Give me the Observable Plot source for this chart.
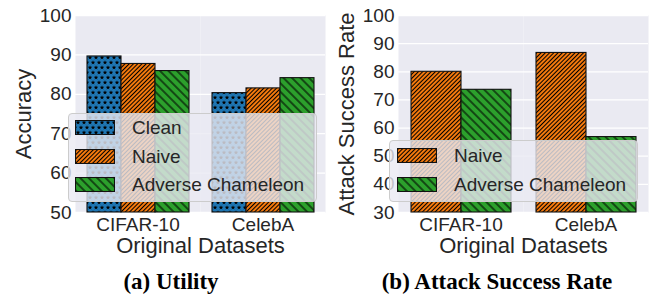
<!DOCTYPE html>
<html><head><meta charset="utf-8">
<script src="https://cdn.jsdelivr.net/npm/d3@7"></script>
<script src="https://cdn.jsdelivr.net/npm/@observablehq/plot@0.6"></script>
<style>
html,body{margin:0;padding:0;background:#fff;}
#wrap{position:relative;width:660px;height:301px;overflow:hidden;font-family:"Liberation Sans",Arial,sans-serif;}
.panel{position:absolute;top:0;width:330px;height:260px;}
.panel svg text{font-family:"Liberation Sans",Arial,sans-serif;}
g[aria-label="y-axis label"], g[aria-label="fx-axis label"]{font-size:22px;}
g[aria-label="y-axis label"] text, g[aria-label="fx-axis label"] text{font-size:22px;}
.legend{position:absolute;background:rgba(234,234,242,0.8);border:1px solid #cccccc;border-radius:4px;box-sizing:border-box;width:249px;}
.row{position:absolute;display:flex;align-items:center;height:15px;}
.row svg{display:block;flex:none}
.row span{font-size:19px;color:#262626;margin-left:17px;white-space:nowrap;line-height:15px}
.caption{position:absolute;top:269px;font-family:"Liberation Serif","Times New Roman",serif;font-weight:bold;font-size:23px;color:#000;white-space:nowrap;transform:translateX(-50%);}
</style></head>
<body>
<svg width="0" height="0" style="position:absolute">
  <defs>
    <pattern id="hStar" patternUnits="userSpaceOnUse" width="6" height="10">
      <path id="starA" fill="black" d=""/>
      <path id="starB" fill="black" d=""/>
      <path id="starC" fill="black" d=""/>
    </pattern>
    <pattern id="hFwd" patternUnits="userSpaceOnUse" width="3" height="3" patternTransform="rotate(45)">
      <line x1="1.5" y1="-1" x2="1.5" y2="4" stroke="black" stroke-width="1.1"/>
    </pattern>
    <pattern id="hBack" patternUnits="userSpaceOnUse" width="6" height="6" patternTransform="rotate(-45)">
      <line x1="3" y1="-1" x2="3" y2="7" stroke="black" stroke-width="1.1"/>
    </pattern>
  </defs>
</svg>
<div id="wrap"></div>
<script>
// ---- data ----
const datasets = ["CIFAR-10", "CelebA"];
const utilityMethods = ["Clean", "Naive", "Adverse Chameleon"];
const utilityClean = [89.6, 80.3];
const utilityNaive = [87.7, 81.5];
const utilityAdverse = [85.9, 84.1];
const utilityTicks = [50, 60, 70, 80, 90, 100];

const asrMethods = ["Naive", "Adverse Chameleon"];
const asrNaive = [80.0, 86.7];
const asrAdverse = [73.6, 56.8];
const asrTicks = [30, 40, 50, 60, 70, 80, 90, 100];

const methodColors = {"Clean": "#1f77b4", "Naive": "#ff7f0e", "Adverse Chameleon": "#2ca02c"};
const methodHatch = {"Clean": "url(#hStar)", "Naive": "url(#hFwd)", "Adverse Chameleon": "url(#hBack)"};

// star glyphs for the hatch pattern
function starPath(cx, cy, R, r) {
  let p = "";
  for (let i = 0; i < 10; i++) {
    const a = -Math.PI / 2 + i * Math.PI / 5;
    const rad = i % 2 ? r : R;
    p += (i ? "L" : "M") + (cx + rad * Math.cos(a)).toFixed(2) + "," + (cy + rad * Math.sin(a)).toFixed(2);
  }
  return p + "Z";
}
document.getElementById("starA").setAttribute("d", starPath(3, 2.6, 2.4, 1.0));
document.getElementById("starB").setAttribute("d", starPath(0, 7.6, 2.4, 1.0));
document.getElementById("starC").setAttribute("d", starPath(6, 7.6, 2.4, 1.0));

function rowsOf(methods, series) {
  const rows = [];
  methods.forEach((m, j) => datasets.forEach((d, i) => rows.push({dataset: d, method: m, value: series[j][i]})));
  return rows;
}

function makePanel(cfg) {
  const rows = rowsOf(cfg.methods, cfg.series);
  const ymin = cfg.ticks[0];
  const marks = [
    Plot.frame({fill: "#EAEAF2", stroke: null}),
    Plot.gridY(cfg.ticks, {stroke: "white", strokeOpacity: 1, strokeWidth: 1.3})
  ];
  cfg.methods.forEach(m => {
    const sub = rows.filter(r => r.method === m);
    marks.push(Plot.barY(sub, {fx: "dataset", x: "method", y1: ymin, y2: "value", fill: methodColors[m]}));
    marks.push(Plot.barY(sub, {fx: "dataset", x: "method", y1: ymin, y2: "value", fill: methodHatch[m], stroke: "#111", strokeWidth: 1.1}));
  });
  marks.push(Plot.axisY(cfg.ticks, {tickSize: 0, tickPadding: 4, label: cfg.ylabel, labelAnchor: "center", labelOffset: cfg.labelOffset, labelArrow: "none"}));
  marks.push(Plot.axisFx({anchor: "bottom", tickSize: 0, tickPadding: 5, label: "Original Datasets", labelAnchor: "center", labelOffset: 40, labelArrow: "none"}));
  return Plot.plot({
    width: 330, height: 260,
    marginLeft: cfg.marginLeft, marginRight: cfg.marginRight, marginTop: 15, marginBottom: 48,
    style: {fontSize: "19px", fontFamily: "Liberation Sans, Arial, sans-serif", color: "#262626", background: "transparent", overflow: "visible"},
    fx: {domain: datasets, padding: 0},
    x: {domain: cfg.methods, axis: null, paddingInner: 0, paddingOuter: cfg.paddingOuter},
    y: {domain: [ymin, 100]},
    marks
  });
}

function makeLegend(methods, box) {
  const lg = document.createElement("div");
  lg.className = "legend";
  lg.style.left = box.left + "px";
  lg.style.top = box.top + "px";
  lg.style.height = box.height + "px";
  methods.forEach((m, i) => {
    const row = document.createElement("div");
    row.className = "row";
    row.style.left = box.padX + "px";
    row.style.top = (box.padY + i * 28.7) + "px";
    row.innerHTML = `<svg width="40" height="15"><rect width="40" height="15" fill="${methodColors[m]}"/><rect x="0.5" y="0.5" width="39" height="14" fill="${methodHatch[m]}" stroke="#111" stroke-width="1.1"/></svg><span>${m}</span>`;
    lg.appendChild(row);
  });
  return lg;
}

const wrap = document.getElementById("wrap");

const p1 = document.createElement("div");
p1.className = "panel"; p1.style.left = "0px";
p1.appendChild(makePanel({methods: utilityMethods, series: [utilityClean, utilityNaive, utilityAdverse], ticks: utilityTicks,
  ylabel: "Accuracy", marginLeft: 75, marginRight: 5, paddingOuter: 0.286, labelOffset: 60}));
p1.appendChild(makeLegend(utilityMethods, {left: 68, top: 113, height: 89, padX: 6, padY: 6}));
wrap.appendChild(p1);

const p2 = document.createElement("div");
p2.className = "panel"; p2.style.left = "330px";
p2.appendChild(makePanel({methods: asrMethods, series: [asrNaive, asrAdverse], ticks: asrTicks,
  ylabel: "Attack Success Rate", marginLeft: 67, marginRight: 12, paddingOuter: 0.23, labelOffset: 60}));
p2.appendChild(makeLegend(asrMethods, {left: 59, top: 140, height: 62, padX: 7, padY: 7}));
wrap.appendChild(p2);

const c1 = document.createElement("div");
c1.className = "caption"; c1.style.left = "171px"; c1.textContent = "(a) Utility";
wrap.appendChild(c1);
const c2 = document.createElement("div");
c2.className = "caption"; c2.style.left = "497px"; c2.textContent = "(b) Attack Success Rate";
wrap.appendChild(c2);
</script>
</body></html>
